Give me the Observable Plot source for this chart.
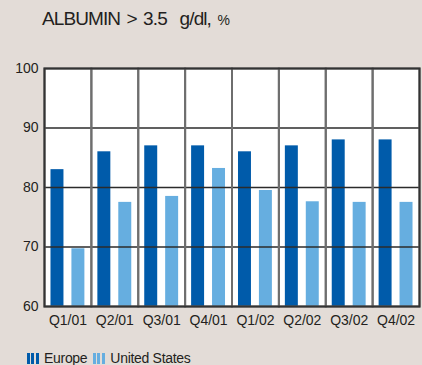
<!DOCTYPE html>
<html>
<head>
<meta charset="utf-8">
<script src="https://cdn.jsdelivr.net/npm/d3@7"></script>
<script src="https://cdn.jsdelivr.net/npm/@observablehq/plot@0.6"></script>
<style>
  html, body { margin: 0; padding: 0; }
  body {
    width: 422px; height: 365px; overflow: hidden; position: relative;
    background: #e3dcd7; color: #231f20;
    font-family: "Liberation Sans Narrow", "Liberation Sans", sans-serif;
  }
  #title { position: absolute; left: 42px; top: 9px; font-size: 19px; line-height: 19px; letter-spacing: -0.9px; word-spacing: 2px; white-space: pre; }
  #title .unit { font-size: 14px; letter-spacing: 0; }
  #chart { position: absolute; left: 0; top: 48px; }
  #legend { position: absolute; left: 27px; top: 350px; font-size: 14px; line-height: 16px; letter-spacing: -0.3px; display: flex; align-items: center; white-space: nowrap; }
  .key { display: flex; align-items: center; margin-right: 6px; }
  .swatch { width: 12px; height: 11px; margin-right: 5px; }
</style>
</head>
<body>
<div id="title">ALBUMIN &gt; 3.5  g/dl, <span class="unit">%</span></div>
<div id="chart"></div>
<div id="legend"></div>
<script>
const quarters = ["Q1/01", "Q2/01", "Q3/01", "Q4/01", "Q1/02", "Q2/02", "Q3/02", "Q4/02"];
const seriesNames = ["Europe", "United States"];
const europe = [83, 86, 87, 87, 86, 87, 88, 88];
const unitedStates = [69.7, 77.5, 78.5, 83.2, 79.5, 77.6, 77.5, 77.5];
const yTicks = [60, 70, 80, 90, 100];
const colors = ["#005baa", "#66aee0"];

const rows = quarters.flatMap((q, i) => [
  {quarter: q, series: seriesNames[0], value: europe[i]},
  {quarter: q, series: seriesNames[1], value: unitedStates[i]}
]);

const chart = Plot.plot({
  width: 422,
  height: 290,
  marginTop: 20,
  marginBottom: 32,
  marginLeft: 44,
  marginRight: 3,
  style: {background: "transparent", fontFamily: "Liberation Sans Narrow, Liberation Sans, sans-serif", fontSize: "14px", color: "#231f20"},
  facet: {data: rows, x: "quarter"},
  fx: {domain: quarters, padding: 0, round: false, axis: "bottom", label: null, tickSize: 0, tickPadding: 9},
  x: {domain: seriesNames, axis: null, round: false, paddingInner: 0.38, paddingOuter: 0.31},
  y: {domain: [60, 100], ticks: yTicks, label: null, tickSize: 0, tickPadding: 6},
  color: {domain: seriesNames, range: colors},
  marks: [
    Plot.frame({fill: "white", stroke: "none"}),
    Plot.barY(rows, {x: "series", y1: 60, y2: "value", fill: "series", inset: 0}),
    Plot.ruleY([70, 80, 90], {stroke: "#2b2b2b", strokeWidth: 1.5}),
    Plot.frame({stroke: "#6e6e6e", strokeWidth: 2}),
    Plot.frame({stroke: "#333", strokeWidth: 2, facet: "super"})
  ]
});
document.getElementById("chart").append(chart);

const legend = document.getElementById("legend");
seriesNames.forEach((name, i) => {
  const key = document.createElement("div");
  key.className = "key";
  const sw = document.createElement("span");
  sw.className = "swatch";
  sw.style.background = `repeating-linear-gradient(to right, ${colors[i]} 0 3px, transparent 3px 4.5px)`;
  key.append(sw, document.createTextNode(name));
  legend.append(key);
});
</script>
</body>
</html>
